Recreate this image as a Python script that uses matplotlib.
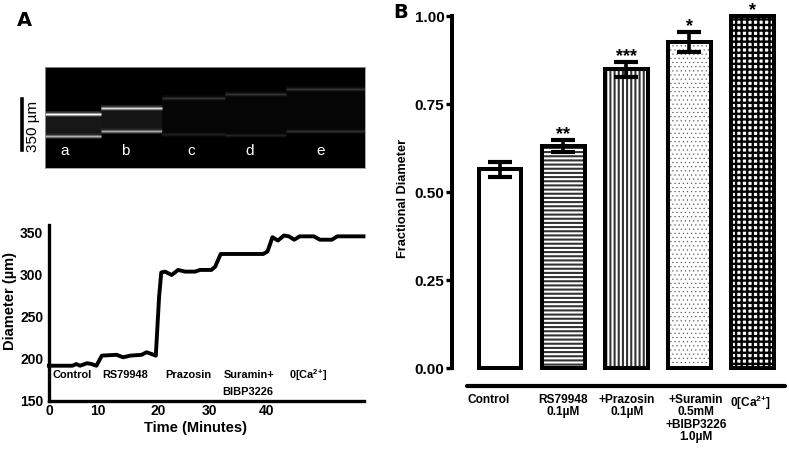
import matplotlib
matplotlib.use('Agg')
import matplotlib.pyplot as plt
from matplotlib.lines import Line2D

plt.rcParams['font.family'] = ['Liberation Sans', 'DejaVu Sans']
plt.rcParams['font.weight'] = 'bold'
plt.rcParams['mathtext.fontset'] = 'custom'
plt.rcParams['mathtext.bf'] = 'Liberation Sans:bold'
plt.rcParams['mathtext.rm'] = 'Liberation Sans:bold'

W, H = 789, 449

# micrograph: wall rows of each frame, in image rows
frame_names = ['a', 'b', 'c', 'd', 'e']
frame_edges = [45, 101, 162, 225, 286, 365]
wall_top = [114, 108, 98, 94, 89]
wall_bottom = [136, 131, 134, 135, 131]
top_gray = [1.0, 0.85, 0.2, 0.2, 0.2]
bottom_gray = [0.7, 0.65, 0.13, 0.13, 0.18]
lumen_gray = [0.09, 0.08, 0.02, 0.02, 0.02]
name_pos = [65, 125, 191, 250, 321]

# diameter trace
time_min = [0, 4.3, 5, 5.7, 7, 7.8, 8.7, 9.7, 12.4, 13.6, 14.9, 17, 17.9, 18.8, 19.6,
            20.2, 20.6, 21.3, 22.5, 23.7, 25, 26.8, 27.7, 29.8, 30.5, 31.5, 39.3,
            40.1, 41, 42, 43.1, 44, 45, 46, 48.6, 49.7, 51.9, 52.9, 57.7]
diameter = [192, 192, 194, 192, 195, 194, 192, 204, 205, 202, 204, 205, 208, 206, 204,
            274, 303, 304, 300, 306, 304, 304, 306, 306, 310, 325, 325,
            328, 345, 341, 347, 346, 342, 346, 346, 342, 342, 346, 346]
time_tick_pos = [0, 9, 20, 29.5, 40]
time_tick_labels = ['0', '10', '20', '30', '40']
diam_ticks = [150, 200, 250, 300, 350]

# bars
bar_labels = ['Control', 'RS79948\n0.1µM', '+Prazosin\n0.1µM',
              '+Suramin\n0.5mM\n+BIBP3226\n1.0µM', r'0[Ca$^{\mathbf{2{+}}}$]']
label_px = [489, 563, 627, 696, 750]
frac_diam = [0.565, 0.631, 0.849, 0.926, 1.0]
frac_err = [0.021, 0.017, 0.021, 0.028, 0.0]
stars = ['', '**', '***', '*', '*']
hatches = [None, '----', '||||', '....', '+++']
hatch_colors = ['black', '#333333', '#333333', '#444444', 'black']
hatch_widths = [1.5, 1.5, 1.5, 0.3, 1.7]
frac_ticks = [0, 0.25, 0.5, 0.75, 1.0]


def px_axes(left, top, right, bottom):
    return fig.add_axes([left / W, 1 - bottom / H, (right - left) / W, (bottom - top) / H])


def px_text(x, y, s, **kw):
    kw.setdefault('ha', 'center')
    kw.setdefault('va', 'center')
    fig.text(x / W, 1 - y / H, s, **kw)


fig = plt.figure(figsize=(W / 100, H / 100), dpi=100)

px_text(24, 20, 'A', fontsize=14, family='DejaVu Sans')
px_text(401, 12, 'B', fontsize=14, family='DejaVu Sans')

# micrograph
ax0 = px_axes(45, 67, 365, 168)
ax0.set_facecolor('black')
ax0.set_xlim(45, 365)
ax0.set_ylim(168, 67)
ax0.set_xticks([])
ax0.set_yticks([])
for s in ax0.spines.values():
    s.set_color('#999999')
    s.set_linewidth(0.6)
for i in range(5):
    x0, x1 = frame_edges[i], frame_edges[i + 1]
    ax0.fill_between([x0, x1], wall_top[i], wall_bottom[i], color=str(lumen_gray[i]), lw=0)
    for y, g in [(wall_top[i], top_gray[i]), (wall_bottom[i], bottom_gray[i])]:
        ax0.plot([x0, x1], [y, y], color=str(g * 0.2), lw=4.0, solid_capstyle='butt')
        ax0.plot([x0, x1], [y, y], color=str(g * 0.5), lw=2.4, solid_capstyle='butt')
        ax0.plot([x0, x1], [y, y], color=str(g), lw=1.0, solid_capstyle='butt')
    ax0.text(name_pos[i], 151, frame_names[i], color='white', fontsize=11, weight='normal',
             ha='center', va='center')

fig.add_artist(Line2D([22 / W, 22 / W], [1 - 99 / H, 1 - 150 / H], color='black', lw=2.6))
px_text(33, 126, '350 µm', rotation=90, fontsize=11, weight='normal')

# trace
ax1 = px_axes(49, 225, 364, 401)
ax1.plot(time_min, diameter, color='black', lw=2.8, solid_joinstyle='round', clip_on=False)
ax1.set_xlim(0, 57.8)
ax1.set_ylim(150, 359.5)
ax1.set_xticks(time_tick_pos)
ax1.set_xticklabels(time_tick_labels, fontsize=10)
ax1.set_yticks(diam_ticks)
ax1.set_yticklabels([str(v) for v in diam_ticks], fontsize=10)
ax1.tick_params(axis='y', length=0, pad=4)
ax1.tick_params(axis='x', length=0, pad=2)
ax1.spines['top'].set_visible(False)
ax1.spines['right'].set_visible(False)
ax1.spines['left'].set_linewidth(2.4)
ax1.spines['bottom'].set_linewidth(2.4)
px_text(196, 428, 'Time (Minutes)', fontsize=10.5)
px_text(10, 301, 'Diameter (µm)', fontsize=10.5, rotation=90)
px_text(72, 375, 'Control', fontsize=7.9)
px_text(125, 375, 'RS79948', fontsize=7.9)
px_text(188, 375, 'Prazosin', fontsize=7.9)
px_text(249, 375, 'Suramin+', fontsize=7.9)
px_text(248, 392, 'BIBP3226', fontsize=7.9)
px_text(308, 375, r'0[Ca$^{\mathbf{2{+}}}$]', fontsize=7.9)

# bars
ax2 = px_axes(452, 16, 785, 386)
xs = list(range(5))
for x, v, h, c, hw in zip(xs, frac_diam, hatches, hatch_colors, hatch_widths):
    plt.rcParams['hatch.linewidth'] = hw
    if h:
        ax2.bar(x, v, width=0.68, color='white', edgecolor=c, hatch=h, lw=0)
ax2.bar(xs, frac_diam, width=0.68, color='none', edgecolor='black', lw=2.9, clip_on=False)
ax2.errorbar(xs[:4], frac_diam[:4], yerr=frac_err[:4], fmt='none', ecolor='black',
             elinewidth=2.6, capsize=8.5, capthick=3)
for x, v, e, s in zip(xs, frac_diam, frac_err, stars):
    ax2.text(x, v + e + 0.016, s, fontsize=13, ha='center', va='center', clip_on=False)
ax2.set_xlim(-0.762, 4.52)
ax2.set_ylim(-18 / 352, 1.0)
ax2.set_xticks([])
ax2.set_yticks(frac_ticks)
ax2.set_yticklabels(['%.2f' % v for v in frac_ticks], fontsize=11)
ax2.tick_params(axis='y', length=4, width=2.4, pad=1.5)
ax2.spines['top'].set_visible(False)
ax2.spines['right'].set_visible(False)
ax2.spines['left'].set_bounds(0, 1)
ax2.spines['left'].set_linewidth(2.9)
ax2.spines['bottom'].set_bounds(-0.524, 4.52)
ax2.spines['bottom'].set_linewidth(3.0)
ax2.spines['bottom'].set_capstyle('round')
px_text(403, 198, 'Fractional Diameter', fontsize=9.2, rotation=90)
for p, lab in zip(label_px, bar_labels):
    px_text(p, 394, lab, fontsize=8.6, va='top', linespacing=1.05, multialignment='center')

fig.savefig('out.png', dpi=100)
